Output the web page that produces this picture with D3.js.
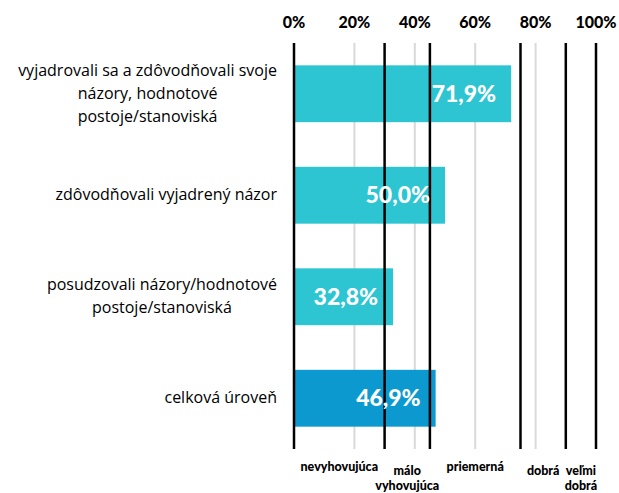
<!DOCTYPE html>
<head>
<meta charset="utf-8">
<script src="https://d3js.org/d3.v7.min.js"></script>
<style>
body { margin:0; background:#fff; }
.cat { font-family:'Open Sans', sans-serif; font-size:16px; fill:#000; }
.heavy { font-family:Lato, sans-serif; font-weight:900; }
</style>
</head>
<body>
<div id="chart"></div>
<script>
// categories (each entry = lines of the label)
var categories = [
  ["vyjadrovali sa a zdôvodňovali svoje", "názory, hodnotové", "postoje/stanoviská"],
  ["zdôvodňovali vyjadrený názor"],
  ["posudzovali názory/hodnotové", "postoje/stanoviská"],
  ["celková úroveň"]
];
var values = [71.9, 50.0, 32.8, 46.9];
var barColors = ["#2dc5d2", "#2dc5d2", "#2dc5d2", "#0c99cf"];
var ticks = [0, 20, 40, 60, 80, 100];
var gridTicks = [20, 40, 60, 80];
// grade boundaries and grade names
var bounds = [0, 30, 45, 75, 90, 100];
var grades = [["nevyhovujúca"], ["málo", "vyhovujúca"], ["priemerná"], ["dobrá"], ["veľmi", "dobrá"]];

var W = 619, H = 493;
var margin = {top: 43, left: 294, right: 23, bottom: 44};
var iw = W - margin.left - margin.right, ih = H - margin.top - margin.bottom;

var svg = d3.select("#chart").append("svg").attr("width", W).attr("height", H);
var g = svg.append("g").attr("transform", "translate(" + margin.left + "," + margin.top + ")");

var x = d3.scaleLinear().domain([0, 100]).range([0, iw]);
var y = d3.scaleBand().domain(d3.range(values.length)).range([0, ih]).paddingInner(0.44).paddingOuter(0.22);

// gray gridlines
g.selectAll(".grid").data(gridTicks).enter().append("line")
  .attr("x1", function(d){ return x(d); }).attr("x2", function(d){ return x(d); })
  .attr("y1", 0).attr("y2", ih)
  .attr("stroke", "#d9d9d9").attr("stroke-width", 2);

// top tick labels
g.selectAll(".tick").data(ticks).enter().append("text")
  .attr("class", "heavy")
  .attr("x", function(d){ return x(d); }).attr("y", -15)
  .attr("text-anchor", "middle").attr("font-size", 16)
  .text(function(d){ return d + "%"; });

// bars
g.selectAll(".bar").data(values).enter().append("rect")
  .attr("x", 0).attr("y", function(d, i){ return y(i); })
  .attr("width", function(d){ return x(d); }).attr("height", y.bandwidth())
  .attr("fill", function(d, i){ return barColors[i]; });

// black grade boundary lines
g.selectAll(".bound").data(bounds).enter().append("line")
  .attr("x1", function(d){ return x(d); }).attr("x2", function(d){ return x(d); })
  .attr("y1", 0).attr("y2", ih)
  .attr("stroke", "#000").attr("stroke-width", 2.5);

// value labels
g.selectAll(".val").data(values).enter().append("text")
  .attr("class", "heavy")
  .attr("x", function(d){ return x(d) - 15; })
  .attr("y", function(d, i){ return y(i) + y.bandwidth() / 2 + 8; })
  .attr("text-anchor", "end").attr("font-size", 23).attr("fill", "#fff")
  .text(function(d){ return d.toFixed(1).replace(".", ",") + "%"; });

// category labels: block right-aligned, lines centred in block
categories.forEach(function(lines, i){
  var t = svg.append("text").attr("class", "cat").attr("text-anchor", "middle");
  var cy = margin.top + y(i) + y.bandwidth() / 2;
  var lh = 23;
  var spans = lines.map(function(l, k){
    return t.append("tspan").attr("y", cy + 5 + (k - (lines.length - 1) / 2) * lh).text(l);
  });
  var maxW = d3.max(spans, function(s){ return s.node().getComputedTextLength(); });
  spans.forEach(function(s){ s.attr("x", 277 - maxW / 2); });
});

// grade names below
grades.forEach(function(lines, i){
  var cx = x((bounds[i] + bounds[i + 1]) / 2);
  var base = (i === 0 || i === 2) ? 471 : 475;
  var t = svg.append("text").attr("class", "heavy").attr("font-size", 12.5)
    .attr("text-anchor", "middle");
  lines.forEach(function(l, k){
    t.append("tspan").attr("x", margin.left + cx).attr("y", base + k * 15).text(l);
  });
});
</script>
</body>
